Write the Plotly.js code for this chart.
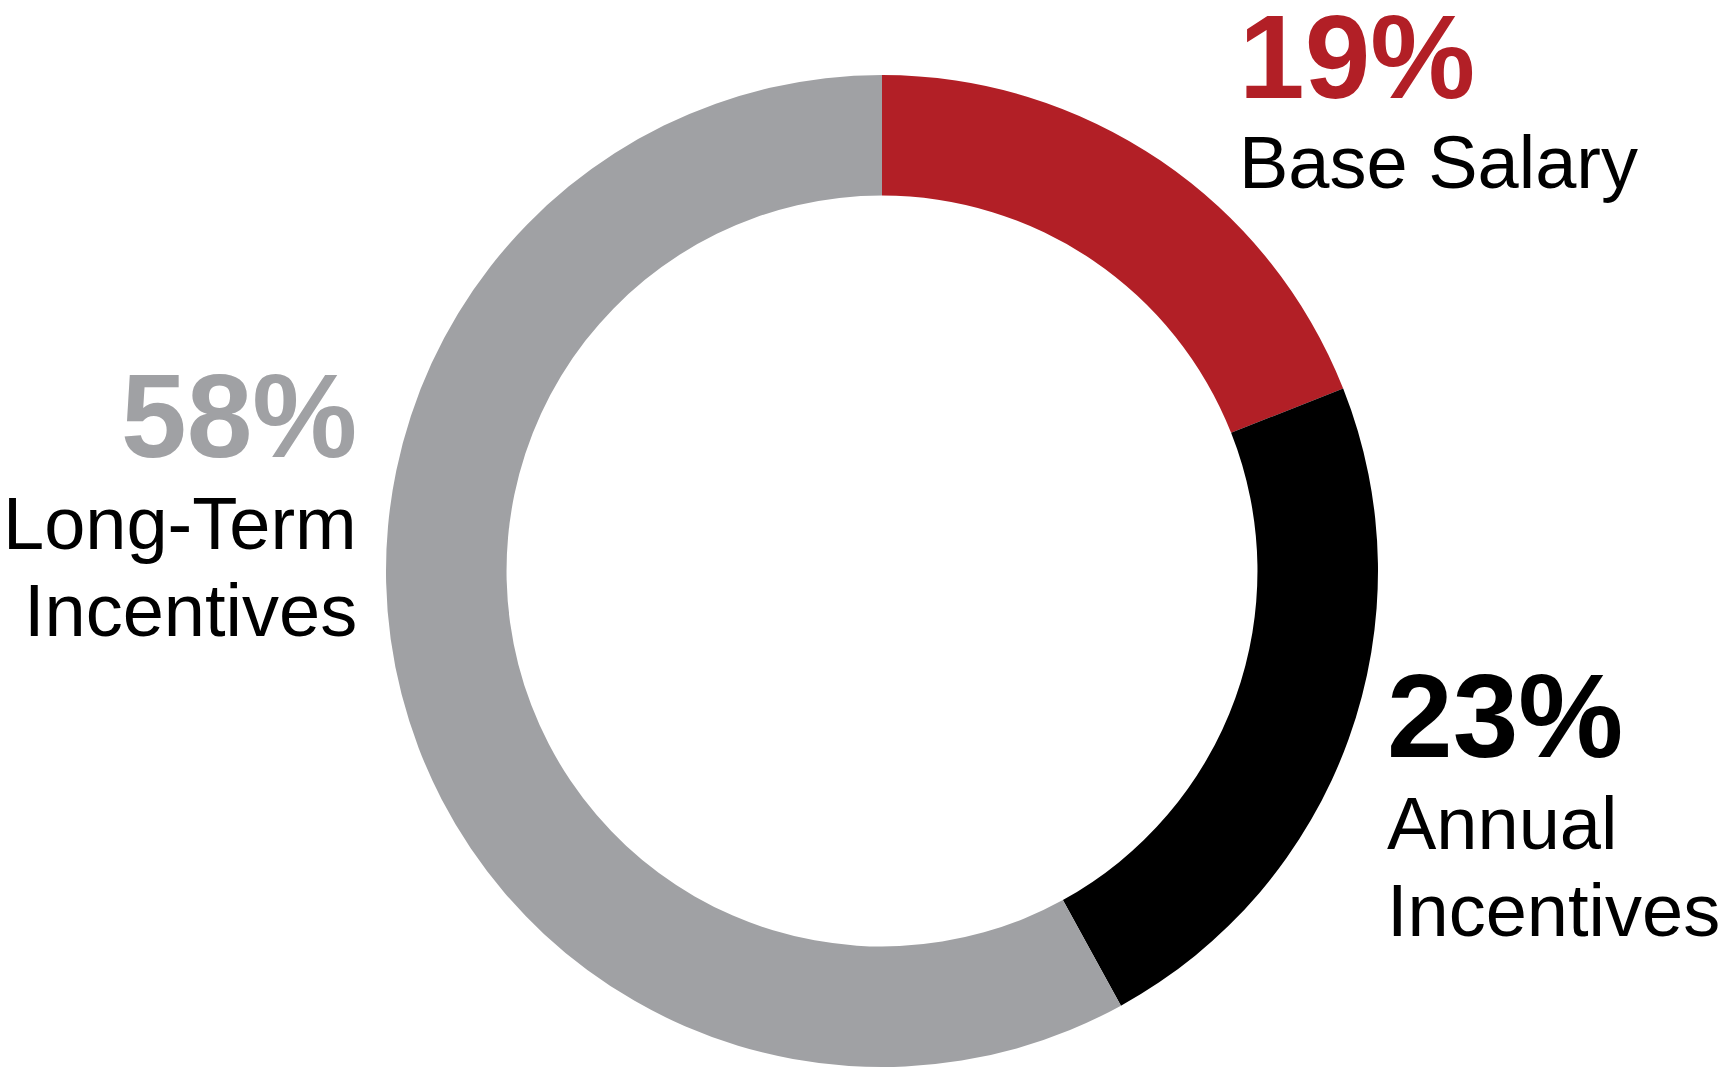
<!DOCTYPE html>
<html>
<head>
<meta charset="utf-8">
<script src="https://cdn.plot.ly/plotly-3.0.1.min.js"></script>
<style>
  html, body { margin: 0; padding: 0; background: #ffffff; }
  #chart { width: 1722px; height: 1068px; }
</style>
</head>
<body>
<div id="chart"></div>
<script>
// Data
const categories = ["Base Salary", "Annual Incentives", "Long-Term Incentives"];
const values = [19, 23, 58];
const labelLines = [["Base Salary"], ["Annual", "Incentives"], ["Long-Term", "Incentives"]];
const sliceColors = ["#B21F26", "#000000", "#A0A1A4"];

const W = 1722, H = 1068;
const cx = 882, cy = 571, R = 496;

// Label placement (pixel baselines) per category
const labelPos = [
  { x: 1239, pctBase: 98,  lineBase: [188],       anchor: "left" },
  { x: 1387, pctBase: 757, lineBase: [849, 936],  anchor: "left" },
  { x: 357,  pctBase: 457, lineBase: [549, 636],  anchor: "right" }
];

const pctSize = 118, lblSize = 74;
const FONT = "Liberation Sans, Arial, Helvetica, sans-serif";

function yFromBaseline(base, size) {
  const center = base - 0.3465 * size;
  return 1 - center / H;
}

const annotations = [];
categories.forEach((c, i) => {
  const p = labelPos[i];
  annotations.push({
    xref: "paper", yref: "paper",
    x: p.x / W, y: yFromBaseline(p.pctBase, pctSize),
    xanchor: p.anchor, yanchor: "middle",
    text: "<b>" + values[i] + "%</b>",
    showarrow: false, borderpad: 0, borderwidth: 0,
    font: { family: FONT, size: pctSize, color: sliceColors[i] }
  });
  labelLines[i].forEach((ln, k) => {
    annotations.push({
      xref: "paper", yref: "paper",
      x: p.x / W, y: yFromBaseline(p.lineBase[k], lblSize),
      xanchor: p.anchor, yanchor: "middle",
      text: ln,
      showarrow: false, borderpad: 0, borderwidth: 0,
      font: { family: FONT, size: lblSize, color: "#000000" }
    });
  });
});

const trace = {
  type: "pie",
  labels: categories,
  values: values,
  hole: 0.757,
  sort: false,
  direction: "clockwise",
  rotation: 0,
  textinfo: "none",
  hoverinfo: "label+percent",
  marker: { colors: sliceColors, line: { width: 0 } },
  domain: {
    x: [(cx - R) / W, (cx + R) / W],
    y: [(H - cy - R) / H, (H - cy + R) / H]
  },
  showlegend: false
};

const layout = {
  width: W, height: H,
  autosize: false,
  margin: { l: 0, r: 0, t: 0, b: 0, pad: 0 },
  paper_bgcolor: "#ffffff",
  plot_bgcolor: "#ffffff",
  showlegend: false,
  annotations: annotations
};

Plotly.newPlot("chart", [trace], layout, { displayModeBar: false, staticPlot: true });
</script>
</body>
</html>
